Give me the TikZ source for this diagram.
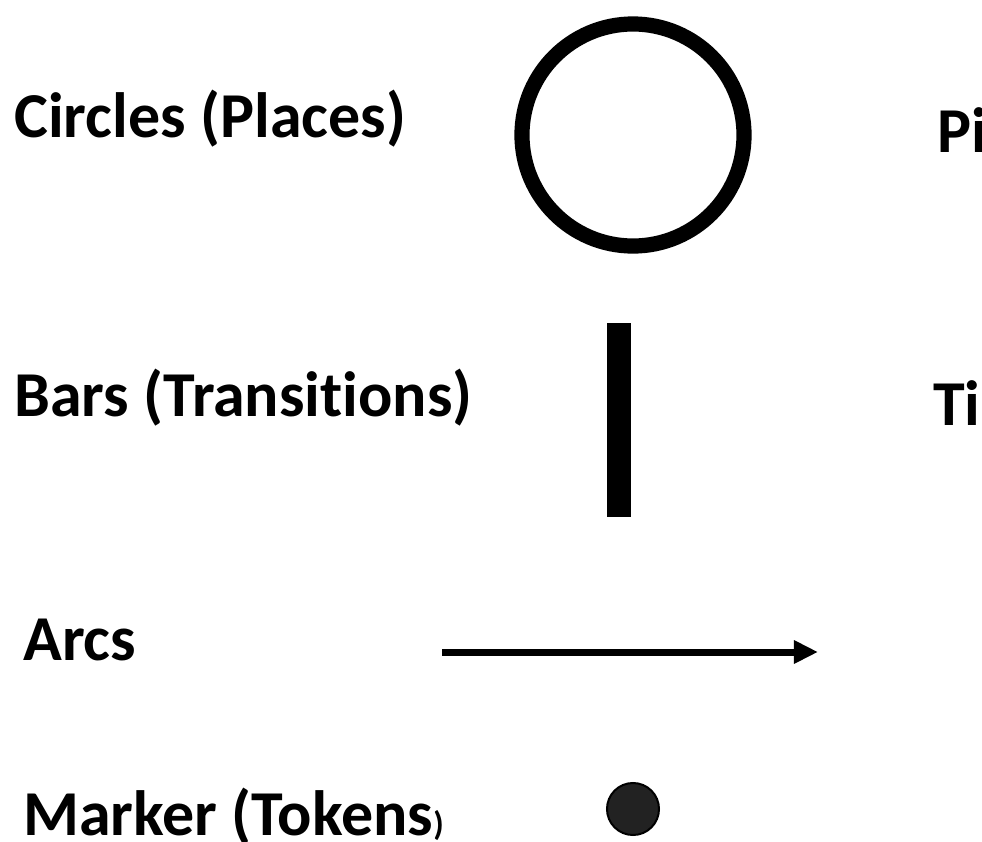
\documentclass[tikz,border=0pt]{standalone}
\usepackage{fontspec}
\setmainfont{Carlito}[Ligatures=NoCommon]
\usetikzlibrary{arrows.meta, positioning}
\definecolor{tokengray}{HTML}{222222}

\begin{document}
\begin{tikzpicture}[x=0.025cm, y=-0.025cm,
    lbl/.style={anchor=base west, inner sep=0pt, font=\bfseries\fontsize{45.5}{54}\selectfont},
    place/.style={circle, draw, line width=0.38cm, minimum size=5.55cm, inner sep=0pt},
    transition/.style={rectangle, fill, minimum width=0.6cm, minimum height=4.85cm, inner sep=0pt},
    token/.style={circle, draw, fill=tokengray, line width=0.05cm, minimum size=1.3cm, inner sep=0pt}]
    \useasboundingbox (0,0) rectangle (982,842);
    % left column: names of the elements
    \node[lbl] (lplace) at (14,137) {Circles (Places)};
    \node[lbl] (ltrans) at (14,416) {Bars (Transitions)};
    \node[lbl] (larc) at (23,660) {Arcs};
    \node[lbl] (ltoken) at (23,835) {Marker (Tokens{\fontsize{24}{28}\selectfont)}};
    % middle column: the symbols
    \node[place] (p) at (633,135) {};
    \node[transition] (t) at (619,420) {};
    \coordinate (afrom) at (442,652);
    \coordinate (ato) at (818,652);
    \node[token] (m) at (633,809) {};
    % right column
    \node[lbl] (pi) at (937,152) {Pi};
    \node[lbl] (ti) at (933,425) {Ti};

    \draw[line width=0.175cm, -{Triangle[length=0.6cm, width=0.55cm]}] (afrom) -- (ato);
\end{tikzpicture}
\end{document}
